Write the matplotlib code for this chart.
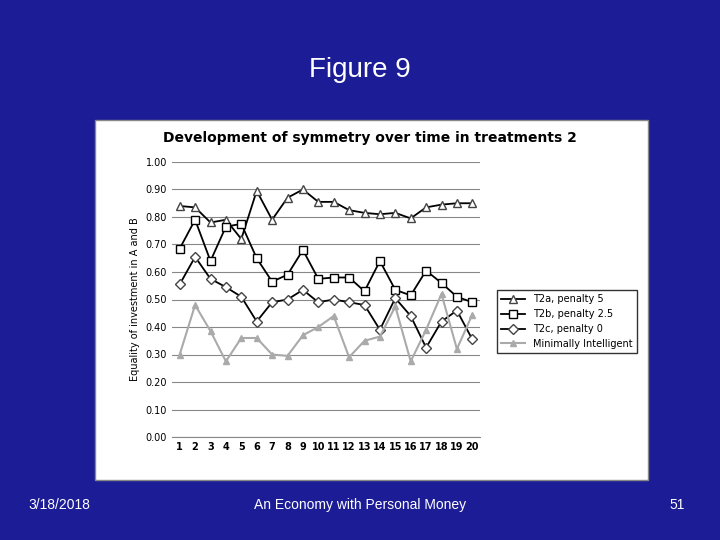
import matplotlib.pyplot as plt
from matplotlib.patches import Rectangle

periods = list(range(1, 21))
t2a = [0.84, 0.835, 0.78, 0.79, 0.72, 0.895, 0.79, 0.87, 0.90, 0.855,
       0.855, 0.825, 0.815, 0.81, 0.815, 0.795, 0.835, 0.845, 0.85, 0.85]
t2b = [0.685, 0.79, 0.64, 0.765, 0.775, 0.65, 0.565, 0.59, 0.68, 0.575,
       0.58, 0.58, 0.53, 0.64, 0.535, 0.515, 0.605, 0.56, 0.51, 0.49]
t2c = [0.555, 0.655, 0.575, 0.545, 0.51, 0.42, 0.49, 0.50, 0.535, 0.49,
       0.50, 0.49, 0.48, 0.39, 0.505, 0.44, 0.325, 0.42, 0.46, 0.355]
mi = [0.30, 0.48, 0.385, 0.275, 0.36, 0.36, 0.30, 0.295, 0.37, 0.40,
      0.44, 0.29, 0.35, 0.365, 0.475, 0.275, 0.39, 0.52, 0.32, 0.445]
yticks = [i / 10 for i in range(11)]

bg = '#1c1c96'
fig = plt.figure(figsize=(7.2, 5.4), dpi=100, facecolor=bg)
fig.text(0.5, 1 - 70 / 540, 'Figure 9', color='white', fontsize=20, ha='center',
         va='center', family='Liberation Sans')
fig.text(0.04, 1 - 505 / 540, '3/18/2018', color='white', fontsize=10, va='center',
         family='Liberation Sans')
fig.text(0.5, 1 - 505 / 540, 'An Economy with Personal Money', color='white', fontsize=10,
         ha='center', va='center', family='Liberation Sans')
fig.text(0.93, 1 - 505 / 540, '51', color='white', fontsize=10, va='center',
         family='Liberation Sans')

# white chart panel, kept behind the axes
fig.patches.append(Rectangle((95 / 720, 1 - 480 / 540), 553 / 720, 360 / 540,
                             transform=fig.transFigure, facecolor='white',
                             edgecolor='#888888', lw=1, zorder=-5))
fig.text(370 / 720, 1 - 138 / 540, 'Development of symmetry over time in treatments 2',
         fontsize=10, weight='bold', ha='center', va='center')

ax = fig.add_axes([172 / 720, 1 - 437 / 540, 308 / 720, 275 / 540])
ax.set_zorder(2)
ax.set_facecolor('white')
ax.plot(periods, t2a, color='black', marker='^', mfc='white', mec='#444444', ms=6,
        lw=1.3, label='T2a, penalty 5')
ax.plot(periods, t2b, color='black', marker='s', mfc='white', mec='black', ms=6,
        lw=1.3, label='T2b, penalty 2.5')
ax.plot(periods, t2c, color='black', marker='D', mfc='white', mec='#444444', ms=5,
        lw=1.3, label='T2c, penalty 0')
ax.plot(periods, mi, color='#aaaaaa', marker='^', mfc='#aaaaaa', mec='#aaaaaa', ms=5,
        lw=1.5, label='Minimally Intelligent')
ax.set_xlim(0.5, 20.5)
ax.set_ylim(0, 1)
ax.set_yticks(yticks)
ax.set_yticklabels([f'{v:.2f}' for v in yticks], fontsize=7)
ax.set_xticks(periods)
ax.set_xticklabels(periods, fontsize=7, weight='bold')
ax.yaxis.grid(True, color='#888888', lw=0.8)
ax.set_axisbelow(True)
ax.tick_params(length=0)
for s in ['top', 'right', 'left']:
    ax.spines[s].set_visible(False)
ax.spines['bottom'].set_color('#888888')
ax.set_ylabel('Equality of investment in A and B', fontsize=7)
ax.legend(loc='center left', bbox_to_anchor=(1.04, 0.42), fontsize=7, frameon=True,
          fancybox=False, edgecolor='black', handlelength=2.5)

fig.savefig('out.png', dpi=100, facecolor=bg)
